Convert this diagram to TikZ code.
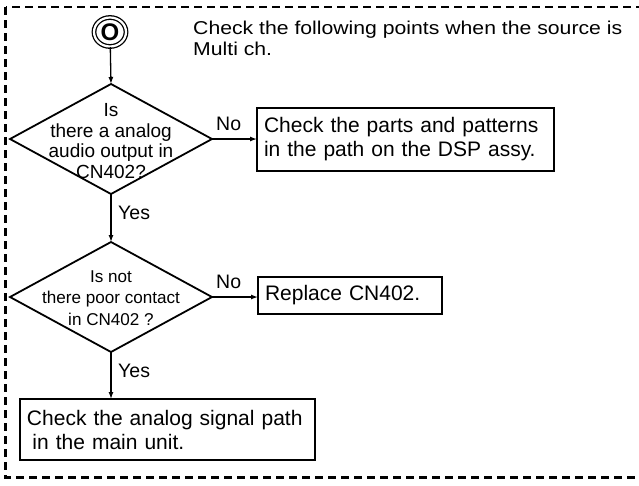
\documentclass[tikz,border=0pt]{standalone}
\usepackage{fontspec}
\setmainfont{Liberation Sans}
\newfontfamily\widefont[FakeStretch=1.14]{Liberation Sans}
\usetikzlibrary{shapes.geometric,arrows.meta}
\begin{document}
\begin{tikzpicture}[x=1pt,y=-1pt,
  decision/.style={diamond, draw, line width=1.8pt, minimum width=202pt, minimum height=110pt, inner sep=0pt, outer sep=0pt},
  dtxt/.style={align=center, inner sep=0pt, font=\fontsize{19}{20.5}\selectfont},
  dtxtb/.style={align=center, inner sep=0pt, font=\fontsize{17.1}{21.5}\selectfont},
  box/.style={draw, line width=1.8pt, align=left, inner ysep=0pt, inner xsep=7pt, outer sep=0pt, font=\fontsize{21}{24}\selectfont},
  conn/.style={line width=1.3pt, -{Latex[length=7pt,width=5pt]}},
  lbl/.style={inner sep=0pt, font=\fontsize{19.5}{22}\selectfont},
  startc/.style={ellipse, draw, line width=1.3pt, double, double distance=2.2pt, minimum width=32pt, minimum height=29pt, inner sep=0pt, font=\fontsize{24}{24}\selectfont\bfseries},
  frame/.style={draw, line width=2.6pt, dash pattern=on 8pt off 5pt}
]
\useasboundingbox (0,0) rectangle (639,485);
\clip (0,0) rectangle (639,485);
\draw[frame] (5.5,7) rectangle (660,477.5);

\node[startc] (s) at (110,32) {O};
\node[anchor=base west, align=left, inner sep=0pt, font=\widefont\fontsize{18.6}{21}\selectfont] (note) at (193,55) {Check the following points when the source is\\Multi ch.};

\node[decision] (d1) at (111,139) {};
\node[dtxt] (t1) at (111,141) {Is\\there a analog\\audio output in\\CN402?};
\node[box, anchor=west, minimum width=297pt, minimum height=63pt, text width=283pt] (b1) at (257,139.5) {Check the parts and patterns\\in the path on the DSP assy.};

\node[decision] (d2) at (111,297) {};
\node[dtxtb] (t2) at (111,298) {Is not\\there poor contact\\in CN402 ?};
\node[box, anchor=west, minimum width=184pt, minimum height=37pt, text width=170pt] (b2) at (258,295.5) {Replace CN402.};

\node[box, minimum width=295pt, minimum height=61pt, text width=281pt] (b3) at (167.5,429.5) {Check the analog signal path\\\hspace*{5.5pt}in the main unit.};

\draw[conn] (s) -- (d1.north);
\draw[conn] (d1.east) -- (d1.east -| b1.west);
\draw[conn] (d1.south) -- (d2.north);
\draw[conn] (d2.east) -- (d2.east -| b2.west);
\draw[conn] (d2.south) -- (d2.south |- b3.north);

\node[lbl, anchor=west] (no1) at (216,124) {No};
\node[lbl, anchor=west] (yes1) at (118,213) {Yes};
\node[lbl, anchor=west] (no2) at (216,282) {No};
\node[lbl, anchor=west] (yes2) at (118,371) {Yes};
\end{tikzpicture}
\end{document}
